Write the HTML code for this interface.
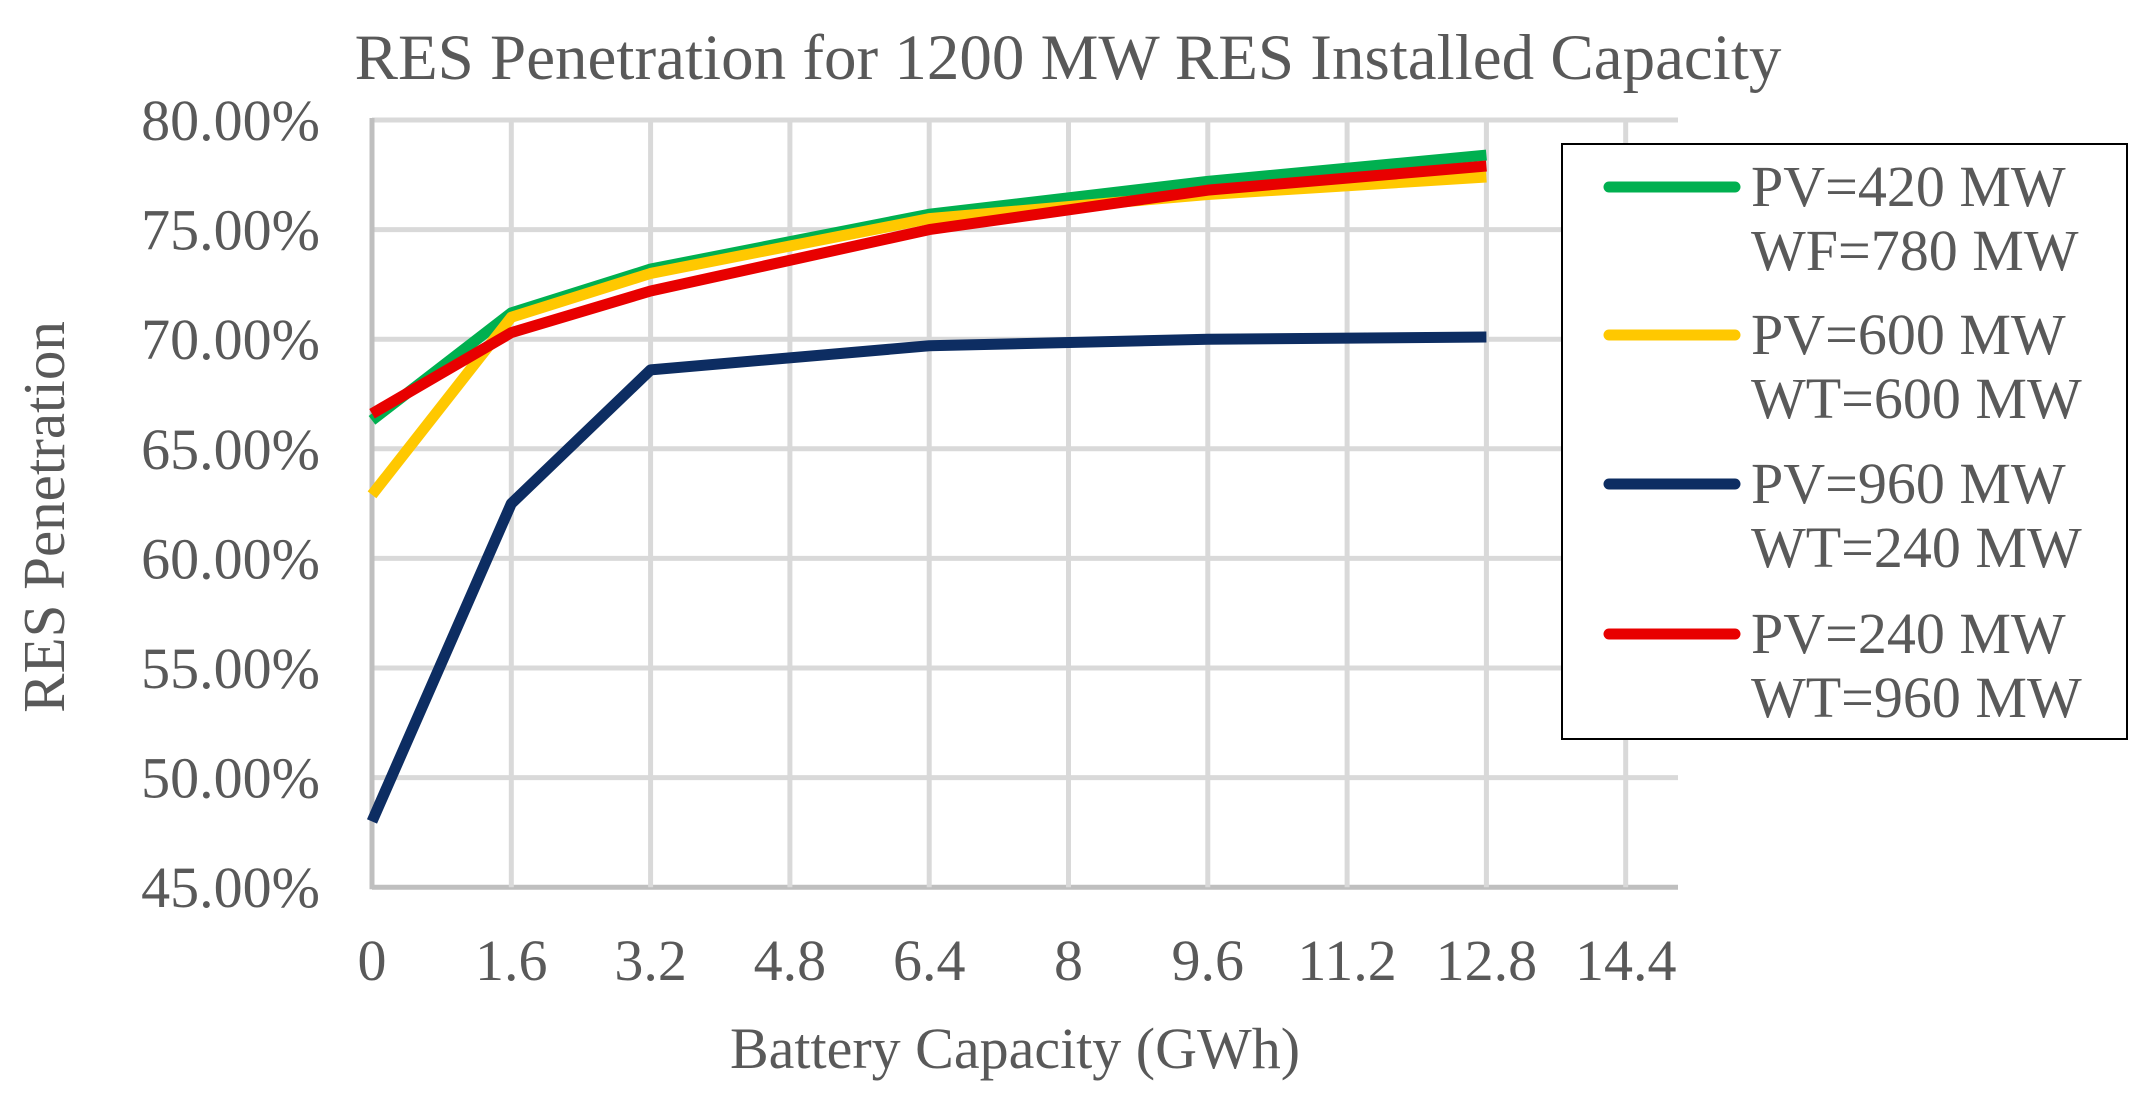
<!DOCTYPE html>
<html><head><meta charset="utf-8"><style>
body{margin:0;background:#fff}
svg text{font-family:"Liberation Serif",serif;fill:#595959}
</style></head><body>
<svg id="chart" width="2152" height="1092" viewBox="0 0 2152 1092" xmlns="http://www.w3.org/2000/svg">
<rect width="2152" height="1092" fill="#fff"/>
<text x="1068" y="79" font-size="65" text-anchor="middle">RES Penetration for 1200 MW RES Installed Capacity</text>
<g id="grid"></g>
<g id="axes"></g>
<g id="series"></g>
<text transform="translate(64,517) rotate(-90)" font-size="59" text-anchor="middle">RES Penetration</text>
<text x="1015" y="1068" font-size="58" text-anchor="middle">Battery Capacity (GWh)</text>
<g>
<rect x="1562" y="144" width="565" height="595" fill="#fff" stroke="#000" stroke-width="2"/>
<g id="legend-items"></g>
</g>
</svg>
<script>
const xCategories=[0,1.6,3.2,6.4,9.6,12.8];
const xTicks=["0","1.6","3.2","4.8","6.4","8","9.6","11.2","12.8","14.4"];
const yTicks=[45,50,55,60,65,70,75,80];
const seriesNames=["PV=420 MW|WF=780 MW","PV=600 MW|WT=600 MW","PV=960 MW|WT=240 MW","PV=240 MW|WT=960 MW"];
const seriesColors=["#00b050","#ffc800","#0d2d62","#e80000"];
const greenValues=[66.3,71.2,73.2,75.7,77.2,78.4];
const yellowValues=[62.9,71.0,73.0,75.5,76.6,77.4];
const navyValues=[48.0,62.5,68.6,69.7,70.0,70.1];
const redValues=[66.6,70.3,72.2,75.0,76.8,77.9];
const allValues=[greenValues,yellowValues,navyValues,redValues];
const drawOrder=[0,1,2,3];

const NS="http://www.w3.org/2000/svg";
const X0=372,XSTEP=139.3/1.6,Y0=120,YMAX=80,YSCALE=109.6/5;
function xs(v){return X0+v*XSTEP;}
function ys(v){return Y0+(YMAX-v)*YSCALE;}
function mk(tag,attrs,parent){const e=document.createElementNS(NS,tag);for(const k in attrs)e.setAttribute(k,attrs[k]);parent.appendChild(e);return e;}
const grid=document.getElementById('grid'),axes=document.getElementById('axes'),ser=document.getElementById('series'),leg=document.getElementById('legend-items'),svg=document.getElementById('chart');
yTicks.forEach(t=>{
  const l=mk('line',{x1:X0,x2:1678,y1:ys(t),y2:ys(t),stroke:t===45?'#bfbfbf':'#d9d9d9','stroke-width':5},grid);
  
  
  const tx=mk('text',{x:320,y:ys(t)+20,'font-size':58,'text-anchor':'end'},svg);
  tx.textContent=t.toFixed(2)+'%';
  
  
});
xTicks.forEach((t,i)=>{
  const x=xs(parseFloat(t));
  if(i>0){const l=mk('line',{x1:x,x2:x,y1:Y0,y2:ys(45),stroke:'#d9d9d9','stroke-width':5},grid);
  
  }
  const tx=mk('text',{x:x,y:980,'font-size':58,'text-anchor':'middle'},svg);
  tx.textContent=t;
  
  
});
const ya=mk('line',{x1:X0,x2:X0,y1:Y0-2,y2:ys(45)+2,stroke:'#bfbfbf','stroke-width':5},axes);


drawOrder.forEach(si=>{
  const pts=allValues[si].map((v,i)=>xs(xCategories[i])+','+ys(v)).join(' ');
  const p=mk('polyline',{points:pts,fill:'none',stroke:seriesColors[si],'stroke-width':11,'stroke-linejoin':'round'},ser);
  
  
});
const legY=[187,335,484,634];
seriesNames.forEach((n,i)=>{
  const l=mk('line',{x1:1609,x2:1735,y1:legY[i],y2:legY[i],stroke:seriesColors[i],'stroke-width':11,'stroke-linecap':'round'},leg);
  
  
  const parts=n.split('|');
  parts.forEach((s,j)=>{
    const t=mk('text',{x:1751,y:legY[i]+19+j*64,'font-size':58},leg);
    t.textContent=s;
    
    
  });
});
</script>
</body></html>
